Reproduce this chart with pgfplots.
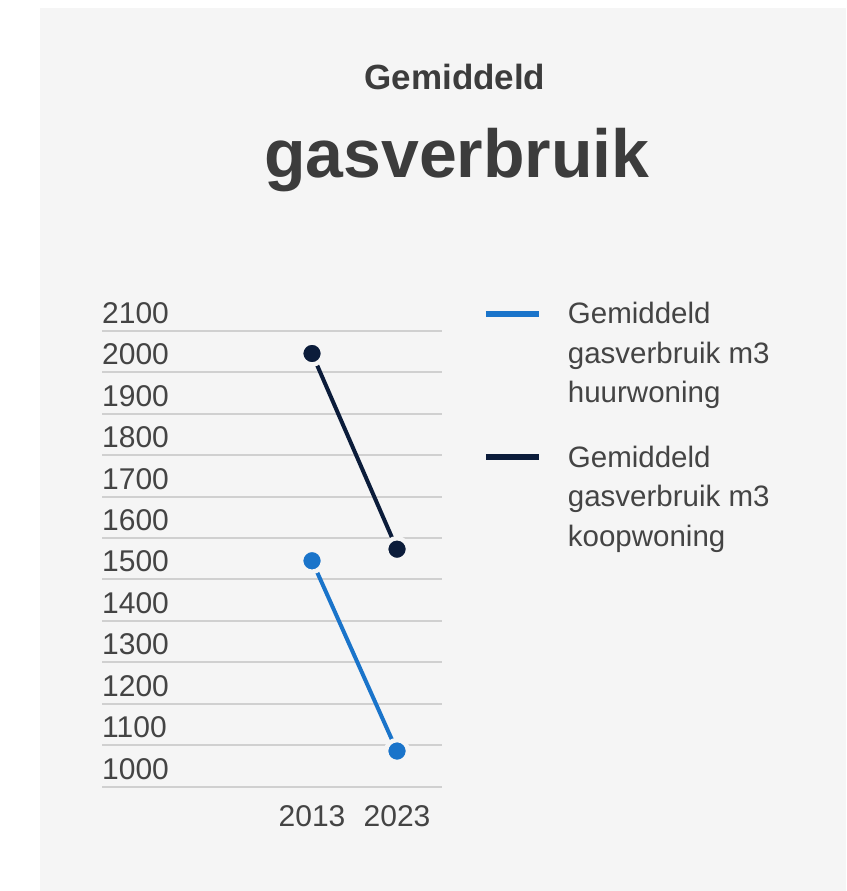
\documentclass[border=0pt]{standalone}
\usepackage{pgfplots}
\pgfplotsset{compat=1.18}
\usepackage{fontspec}
\setmainfont{Liberation Sans}
\definecolor{huur}{HTML}{1A74CA}
\definecolor{koop}{HTML}{0B1C3A}
\definecolor{panel}{HTML}{F5F5F5}
\definecolor{gridc}{HTML}{D0D0D0}
\definecolor{txt}{HTML}{444444}
\definecolor{titlec}{HTML}{3C3C3C}
\begin{document}
\begin{tikzpicture}[x=1pt,y=1pt]
\fill[white] (0,0) rectangle (846,891);
\fill[panel] (40,0) rectangle (846,883);
\begin{axis}[
  at={(102pt,104.3pt)}, anchor=south west,
  width=340pt, height=456pt, scale only axis,
  xmin=1988.29, xmax=2028.29, ymin=1000, ymax=2100,
  clip=false,
  axis line style={draw=none},
  tick style={draw=none},
  ymajorgrids,
  major grid style={gridc, line width=2pt},
  xtick={2013,2023},
  ytick={1000,1100,...,2100},
  /pgf/number format/1000 sep={},
  /pgf/number format/assume math mode=true,
  yticklabel style={anchor=base west, inner sep=0pt, yshift=7.5pt, font=\fontsize{30}{32}\selectfont, text=txt},
  xticklabel style={anchor=north, inner sep=0pt, yshift=-19pt, font=\fontsize{30}{32}\selectfont, text=txt},
  legend style={at={(1.111,1.067)}, anchor=north west, draw=none, fill=none,
    font=\fontsize{29.5}{39.5}\selectfont, text=txt,
    nodes={align=left, inner sep=0pt},
    row sep=41.5pt,
    /tikz/every odd column/.append style={column sep=26pt}},
  legend cell align=left,
  legend image code/.code={\draw[line width=6pt] (0pt,39.5pt) -- (53pt,39.5pt);},
]
\addplot[huur, line width=4pt, mark=*, mark size=11pt,
  mark options={draw=panel, line width=4.5pt, fill=huur}]
  coordinates {(2013,1545) (2023,1086)};
\addlegendentry{Gemiddeld\\gasverbruik m3\\huurwoning}
\addplot[koop, line width=4pt, mark=*, mark size=11pt,
  mark options={draw=panel, line width=4.5pt, fill=koop}]
  coordinates {(2013,2045) (2023,1573)};
\addlegendentry{Gemiddeld\\gasverbruik m3\\koopwoning}
\node[anchor=base, text=titlec, font=\fontsize{35}{42}\selectfont\bfseries] at (axis description cs:1.038,1.528) {Gemiddeld};
\node[anchor=base, text=titlec, font=\fontsize{68}{80}\selectfont\bfseries] at (axis description cs:1.044,1.335) {gasverbruik};
\end{axis}
\end{tikzpicture}
\end{document}
